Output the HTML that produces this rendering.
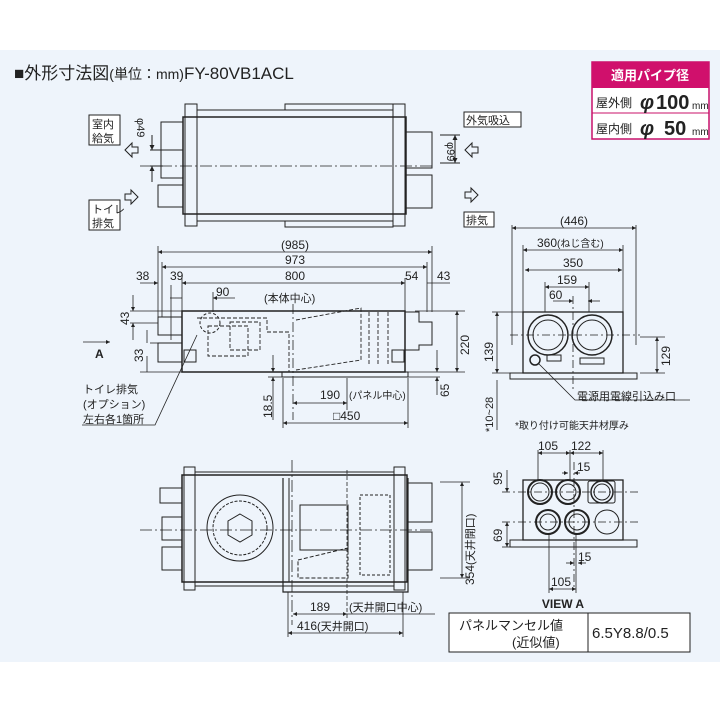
<!DOCTYPE html>
<html><head><meta charset="utf-8"><style>
html,body{margin:0;padding:0;background:#fff}
svg{display:block}
text{font-family:"Liberation Sans","Noto Sans CJK JP",sans-serif;fill:#222}
</style></head><body>
<svg width="720" height="720" viewBox="0 0 720 720" xmlns="http://www.w3.org/2000/svg">
<defs>
<marker id="a" viewBox="0 0 10 10" refX="10" refY="5" markerWidth="7" markerHeight="5" orient="auto-start-reverse"><path d="M0,0L10,5L0,10z" fill="#222"/></marker>
</defs>
<rect x="0" y="50" width="720" height="612" fill="#eef4fb"/>
<g stroke="#222" fill="none" stroke-width="1">
<!-- title -->
</g>
<text x="14" y="79" font-size="17">■外形寸法図<tspan font-size="14">(単位：mm)</tspan>FY-80VB1ACL</text>
<!-- pipe table -->
<rect x="592" y="62" width="117" height="77" fill="#fff" stroke="#c8106a" stroke-width="1.5"/>
<rect x="592" y="62" width="117" height="26" fill="#d0106c"/>
<text x="650" y="80" font-size="13" font-weight="bold" text-anchor="middle" style="fill:#fff">適用パイプ径</text>
<line x1="592" y1="113" x2="709" y2="113" stroke="#c8106a"/>
<text x="596" y="107" font-size="12">屋外側</text>
<text x="640" y="109" font-size="20" font-weight="bold" font-style="italic">φ</text><text x="656" y="109" font-size="20" font-weight="bold">100</text><text x="692" y="109" font-size="10">mm</text>
<text x="596" y="133" font-size="12">屋内側</text>
<text x="640" y="135" font-size="20" font-weight="bold" font-style="italic">φ</text><text x="664" y="135" font-size="20" font-weight="bold">50</text><text x="692" y="135" font-size="10">mm</text>

<g stroke="#222" fill="none" stroke-width="1">
<!-- TOP VIEW -->
<rect x="183" y="117" width="223" height="97" stroke-width="1.5"/>
<rect x="185" y="104" width="12" height="122"/>
<rect x="393" y="104" width="12" height="122"/>
<line x1="197" y1="110" x2="393" y2="110"/><line x1="197" y1="221" x2="393" y2="221"/>
<rect x="285" y="104" width="108" height="6"/><rect x="285" y="221" width="108" height="6"/>
<rect x="161" y="122" width="22" height="28"/><rect x="161" y="150" width="22" height="28"/><rect x="158" y="185" width="25" height="22"/>
<rect x="406" y="132" width="26" height="36"/><rect x="406" y="175" width="26" height="33"/>
<line x1="140" y1="166" x2="432" y2="166" stroke-dasharray="12,3,2,3" stroke-width="0.8"/>
<line x1="440" y1="135" x2="460" y2="135"/><line x1="440" y1="163" x2="460" y2="163"/>
<line x1="455" y1="135" x2="455" y2="163" marker-start="url(#a)" marker-end="url(#a)"/>
<line x1="150" y1="150" x2="163" y2="150"/><line x1="150" y1="166" x2="163" y2="166"/>
<line x1="152" y1="135" x2="152" y2="150" marker-end="url(#a)"/><line x1="152" y1="182" x2="152" y2="166" marker-end="url(#a)"/>
<rect x="89" y="115" width="31" height="30" fill="#fff"/>
<rect x="89" y="200" width="31" height="30" fill="#fff"/>
<rect x="464" y="112" width="57" height="15" fill="#fff"/>
<rect x="464" y="212" width="30" height="15" fill="#fff"/>
<path d="M125,150l7,-7v4h6v6h-6v4z"/>
<path d="M138,197l-7,-7v4h-6v6h6v4z"/>
<path d="M465,150l7,-7v4h6v6h-6v4z"/>
<path d="M478,195l-7,-7v4h-6v6h6v4z"/>
</g>
<text x="92" y="128" font-size="11">室内</text><text x="92" y="142" font-size="11">給気</text>
<text x="92" y="213" font-size="11">トイレ</text><text x="92" y="227" font-size="11">排気</text>
<text x="466" y="124" font-size="11">外気吸込</text>
<text x="466" y="224" font-size="11">排気</text>
<text transform="translate(447,142) rotate(90)" font-size="11">φ99</text>
<text transform="translate(137,118) rotate(90)" font-size="11">φ49</text>

<g stroke="#222" fill="none" stroke-width="1">
<!-- SIDE VIEW -->
<rect x="182" y="311" width="223" height="61" stroke-width="1.5"/>
<rect x="158" y="317" width="24" height="18"/><rect x="158" y="343" width="24" height="19"/>
<path d="M405,312h14v10h13v23h-13v5h-14"/>
<rect x="282" y="372" width="126" height="5"/>
<g stroke-dasharray="4,2" stroke-width="0.9">
<path d="M197,318h70v14h22v40"/>
<path d="M208,326h40v30h-40z"/>
<path d="M230,322h30v28h-30z"/>
<path d="M296,320l65,-12v52l-65,10"/>
<line x1="369" y1="312" x2="369" y2="365"/><line x1="378" y1="312" x2="378" y2="365"/><line x1="388" y1="312" x2="388" y2="365"/>
</g>
<circle cx="210" cy="323" r="10" stroke-dasharray="3,2"/>
<rect x="184" y="350" width="12" height="12"/><rect x="392" y="350" width="12" height="12"/>
<!-- dims -->
<g stroke-width="0.8">
<line x1="158" y1="246" x2="158" y2="317"/><line x1="432" y1="246" x2="432" y2="312"/>
<line x1="158" y1="252" x2="432" y2="252" marker-start="url(#a)" marker-end="url(#a)"/>
<line x1="162" y1="262" x2="162" y2="317"/><line x1="427" y1="262" x2="427" y2="312"/>
<line x1="162" y1="267" x2="427" y2="267" marker-start="url(#a)" marker-end="url(#a)"/>
<line x1="182" y1="278" x2="182" y2="311"/><line x1="405" y1="278" x2="405" y2="311"/>
<line x1="182" y1="283" x2="405" y2="283" marker-start="url(#a)" marker-end="url(#a)"/>
<line x1="140" y1="283" x2="158" y2="283" marker-end="url(#a)"/><line x1="427" y1="283" x2="450" y2="283"/>
<line x1="170" y1="298" x2="182" y2="298"/><line x1="213" y1="298" x2="235" y2="298" marker-start="url(#a)"/>
<line x1="171" y1="285" x2="171" y2="340"/><line x1="213" y1="292" x2="213" y2="312"/>
<line x1="293" y1="304" x2="293" y2="420" stroke-dasharray="10,3,2,3"/>
<line x1="130" y1="311" x2="182" y2="311"/><line x1="130" y1="323" x2="158" y2="323"/>
<line x1="133" y1="295" x2="133" y2="311" marker-end="url(#a)"/><line x1="133" y1="340" x2="133" y2="323" marker-end="url(#a)"/>
<line x1="140" y1="372" x2="182" y2="372"/>
<line x1="147" y1="330" x2="147" y2="343"/><line x1="147" y1="356" x2="147" y2="372"/>
<line x1="150" y1="343" x2="158" y2="343"/>
<line x1="415" y1="311" x2="465" y2="311"/><line x1="408" y1="372" x2="465" y2="372"/>
<line x1="457" y1="311" x2="457" y2="372" marker-start="url(#a)" marker-end="url(#a)"/>
<line x1="408" y1="377" x2="440" y2="377"/>
<line x1="437" y1="350" x2="437" y2="372" marker-end="url(#a)"/><line x1="437" y1="395" x2="437" y2="377" marker-end="url(#a)"/>
<line x1="273" y1="355" x2="273" y2="372" marker-end="url(#a)"/><line x1="273" y1="420" x2="273" y2="377" marker-end="url(#a)"/>
<line x1="268" y1="377" x2="282" y2="377"/>
<line x1="347" y1="378" x2="347" y2="410"/>
<line x1="293" y1="403" x2="347" y2="403" marker-start="url(#a)" marker-end="url(#a)"/>
<line x1="283" y1="378" x2="283" y2="428"/><line x1="408" y1="378" x2="408" y2="428"/>
<line x1="283" y1="423" x2="408" y2="423" marker-start="url(#a)" marker-end="url(#a)"/>
<line x1="83" y1="342" x2="110" y2="342" marker-end="url(#a)"/>
<path d="M197,335L155,425H82"/>
</g>
</g>
<g font-size="12">
<text x="295" y="249" text-anchor="middle">(985)</text>
<text x="295" y="264" text-anchor="middle">973</text>
<text x="295" y="280" text-anchor="middle">800</text>
<text x="136" y="280">38</text><text x="170" y="280">39</text>
<text x="405" y="280">54</text><text x="437" y="280">43</text>
<text x="216" y="296">90</text>
<text x="264" y="302" font-size="11">(本体中心)</text>
<text transform="translate(129,325) rotate(-90)">43</text>
<text transform="translate(143,362) rotate(-90)">33</text>
<text transform="translate(469,355) rotate(-90)">220</text>
<text transform="translate(449,397) rotate(-90)">65</text>
<text transform="translate(272,418) rotate(-90)">18.5</text>
<text x="320" y="399">190</text><text x="349" y="399" font-size="10">(パネル中心)</text>
<text x="333" y="420">□450</text>
<text x="95" y="358" font-weight="bold">A</text>
<text x="83" y="393" font-size="11">トイレ排気</text>
<text x="83" y="408" font-size="11">(オプション)</text>
<text x="83" y="423" font-size="11">左右各1箇所</text>
</g>

<g stroke="#222" fill="none" stroke-width="1">
<!-- RIGHT VIEW -->
<rect x="523" y="312" width="100" height="61" stroke-width="1.3"/>
<rect x="510" y="373" width="127" height="6"/>
<circle cx="548" cy="335" r="20" stroke-width="1.5"/><circle cx="548" cy="335" r="15"/>
<circle cx="592" cy="335" r="20" stroke-width="1.5"/><circle cx="592" cy="335" r="15"/>
<circle cx="535" cy="360" r="5" stroke-width="1.5"/>
<rect x="547" y="355" width="14" height="6"/><rect x="580" y="358" width="24" height="6"/>
<g stroke-width="0.8">
<line x1="512" y1="225" x2="512" y2="345"/><line x1="636" y1="225" x2="636" y2="345"/>
<line x1="512" y1="228" x2="636" y2="228" marker-start="url(#a)" marker-end="url(#a)"/>
<line x1="523" y1="250" x2="623" y2="250" marker-start="url(#a)" marker-end="url(#a)"/>
<line x1="523" y1="245" x2="523" y2="312"/><line x1="623" y1="245" x2="623" y2="312"/>
<line x1="525" y1="270" x2="622" y2="270" marker-start="url(#a)" marker-end="url(#a)"/>
<line x1="545" y1="282" x2="545" y2="312"/><line x1="589" y1="282" x2="589" y2="312"/>
<line x1="545" y1="287" x2="589" y2="287" marker-start="url(#a)" marker-end="url(#a)"/>
<line x1="553" y1="301" x2="573" y2="301" marker-end="url(#a)"/><line x1="600" y1="301" x2="588" y2="301" marker-end="url(#a)"/>
<line x1="573" y1="296" x2="573" y2="392" stroke-dasharray="8,3,2,3"/>
<line x1="510" y1="335" x2="640" y2="335" stroke-dasharray="8,3,2,3"/>
<line x1="492" y1="312" x2="523" y2="312"/><line x1="492" y1="373" x2="510" y2="373"/>
<line x1="497" y1="312" x2="497" y2="373" marker-start="url(#a)" marker-end="url(#a)"/>
<line x1="497" y1="380" x2="497" y2="430"/>
<line x1="640" y1="337" x2="665" y2="337"/><line x1="640" y1="373" x2="665" y2="373"/>
<line x1="657" y1="337" x2="657" y2="373" marker-start="url(#a)" marker-end="url(#a)"/>
<path d="M538,363L575,400H690"/>
</g>
<!-- VIEW A -->
<rect x="523" y="480" width="100" height="60" stroke-width="1.3"/>
<rect x="510" y="540" width="127" height="7"/>
<circle cx="540" cy="492" r="12" stroke-width="2"/><circle cx="540" cy="492" r="9"/>
<circle cx="568" cy="492" r="12" stroke-width="2"/><circle cx="568" cy="492" r="8"/>
<rect x="588" y="481" width="27" height="22" rx="2"/>
<circle cx="602" cy="492" r="11" stroke-width="1.5"/><circle cx="602" cy="492" r="8"/>
<circle cx="548" cy="522" r="12" stroke-width="2"/><circle cx="548" cy="522" r="8"/>
<circle cx="577" cy="522" r="12" stroke-width="2"/><circle cx="577" cy="522" r="8"/>
<circle cx="607" cy="522" r="12"/>
<g stroke-width="0.8">
<line x1="538" y1="450" x2="538" y2="480"/><line x1="570" y1="450" x2="570" y2="480"/><line x1="603" y1="450" x2="603" y2="480"/>
<line x1="538" y1="453" x2="570" y2="453" marker-start="url(#a)" marker-end="url(#a)"/>
<line x1="570" y1="453" x2="603" y2="453" marker-start="url(#a)" marker-end="url(#a)"/>
<line x1="562" y1="473" x2="568" y2="473" marker-end="url(#a)"/><line x1="580" y1="473" x2="574" y2="473" marker-end="url(#a)"/>
<line x1="574" y1="462" x2="574" y2="590" stroke-dasharray="8,3,2,3"/>
<line x1="502" y1="492" x2="640" y2="492" stroke-dasharray="8,3,2,3"/>
<line x1="502" y1="522" x2="640" y2="522" stroke-dasharray="8,3,2,3"/>
<line x1="507" y1="470" x2="507" y2="492" marker-end="url(#a)"/>
<line x1="507" y1="522" x2="507" y2="547" marker-start="url(#a)" marker-end="url(#a)"/>
<line x1="502" y1="547" x2="510" y2="547"/>
<line x1="549" y1="534" x2="549" y2="593"/><line x1="576" y1="534" x2="576" y2="593"/>
<line x1="566" y1="563" x2="574" y2="563" marker-end="url(#a)"/><line x1="586" y1="563" x2="578" y2="563" marker-end="url(#a)"/>
<line x1="549" y1="589" x2="576" y2="589" marker-start="url(#a)" marker-end="url(#a)"/>
</g>
</g>
<g font-size="12">
<text x="574" y="225" text-anchor="middle">(446)</text>
<text x="537" y="247">360<tspan font-size="10">(ねじ含む)</tspan></text>
<text x="573" y="267" text-anchor="middle">350</text>
<text x="567" y="284" text-anchor="middle">159</text>
<text x="549" y="299">60</text>
<text transform="translate(493,362) rotate(-90)">139</text>
<text transform="translate(670,366) rotate(-90)">129</text>
<text transform="translate(493,432) rotate(-90)" font-size="11">*10~28</text>
<text x="577" y="400" font-size="11">電源用電線引込み口</text>
<text x="515" y="429" font-size="10">*取り付け可能天井材厚み</text>
<text x="538" y="450">105</text><text x="571" y="450">122</text>
<text x="577" y="471">15</text>
<text transform="translate(502,485) rotate(-90)">95</text>
<text transform="translate(502,542) rotate(-90)">69</text>
<text x="578" y="561">15</text>
<text x="551" y="586">105</text>
<text x="563" y="608" text-anchor="middle" font-weight="bold">VIEW A</text>
</g>

<g stroke="#222" fill="none" stroke-width="1">
<!-- BOTTOM VIEW -->
<rect x="182" y="475" width="225" height="107" stroke-width="1.5"/>
<rect x="184" y="467" width="11" height="123"/><rect x="394" y="467" width="11" height="123"/>
<line x1="195" y1="472" x2="394" y2="472"/><line x1="195" y1="586" x2="394" y2="586"/>
<rect x="160" y="488" width="22" height="15"/><rect x="162" y="517" width="20" height="23"/><rect x="162" y="547" width="20" height="23"/>
<rect x="407" y="483" width="25" height="39"/><rect x="407" y="532" width="25" height="38"/>
<path d="M283,478v114h125v-114" stroke-width="1.2"/>
<line x1="289" y1="478" x2="289" y2="582"/>
<circle cx="240" cy="528" r="33"/><circle cx="240" cy="528" r="27" stroke-dasharray="3,1.5"/>
<path d="M240,514l12,7v14l-12,7l-12,-7v-14z"/>
<rect x="300" y="505" width="48" height="45"/>
<rect x="360" y="495" width="30" height="80" stroke-dasharray="3,2"/>
<path d="M298,560l50,-12v30h-50z" stroke-dasharray="4,2"/>
<g stroke-width="0.8">
<line x1="140" y1="530" x2="435" y2="530" stroke-dasharray="12,3,2,3"/>
<line x1="292" y1="460" x2="292" y2="625" stroke-dasharray="12,3,2,3"/>
<line x1="347" y1="470" x2="347" y2="620" stroke-dasharray="4,2"/>
<line x1="440" y1="482" x2="470" y2="482"/><line x1="440" y1="578" x2="470" y2="578"/>
<line x1="462" y1="482" x2="462" y2="578" marker-start="url(#a)" marker-end="url(#a)"/>
<line x1="293" y1="614" x2="347" y2="614" marker-start="url(#a)" marker-end="url(#a)"/>
<line x1="347" y1="614" x2="435" y2="614"/>
<line x1="288" y1="592" x2="288" y2="637"/><line x1="403" y1="592" x2="403" y2="637"/>
<line x1="288" y1="633" x2="403" y2="633" marker-start="url(#a)" marker-end="url(#a)"/>
</g>
</g>
<g font-size="12">
<text transform="translate(474,585) rotate(-90)">354<tspan font-size="11">(天井開口)</tspan></text>
<text x="310" y="611">189</text><text x="349" y="611" font-size="11">(天井開口中心)</text>
<text x="297" y="630">416<tspan font-size="11">(天井開口)</tspan></text>
</g>
<!-- panel table -->
<rect x="449" y="613" width="241" height="39" fill="#fff" stroke="#222"/>
<line x1="588" y1="613" x2="588" y2="652" stroke="#222"/>
<text x="459" y="630" font-size="13">パネルマンセル値</text>
<text x="512" y="647" font-size="13">(近似値)</text>
<text x="592" y="638" font-size="15">6.5Y8.8/0.5</text>
</svg>
</body></html>
